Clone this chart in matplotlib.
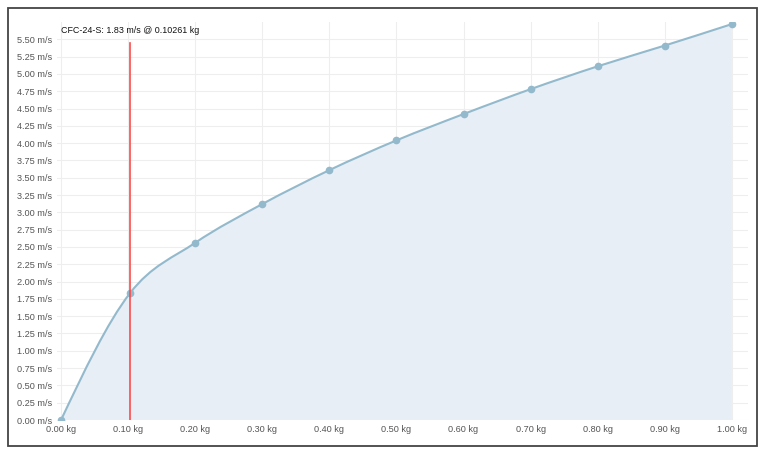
import numpy as np
import matplotlib
matplotlib.use("Agg")
import matplotlib.pyplot as plt
from matplotlib.path import Path
from matplotlib.patches import PathPatch, Rectangle

plt.rcParams['font.family'] = ['Liberation Sans', 'DejaVu Sans']

mass = [0.0, 0.10261, 0.2, 0.3, 0.4, 0.5, 0.6, 0.7, 0.8, 0.9, 1.0]
speed = [0.0, 1.83, 2.56, 3.12, 3.61, 4.04, 4.42, 4.78, 5.11, 5.41, 5.72]
marker_x = 0.10261
marker_label = "CFC-24-S: 1.83 m/s @ 0.10261 kg"
yticks = np.arange(0, 5.51, 0.25)
xticks = np.arange(0, 1.01, 0.1)

line_c = "#93b9cc"
fill_c = "#e7eef5"


def monotone_tangents(x, y):
    # same slopes as d3.curveMonotoneX
    x = np.asarray(x, float)
    y = np.asarray(y, float)
    h = np.diff(x)
    s = np.diff(y) / h
    t = np.zeros(len(x))
    for i in range(1, len(x) - 1):
        p = (s[i - 1] * h[i] + s[i] * h[i - 1]) / (h[i - 1] + h[i])
        t[i] = (np.sign(s[i - 1]) + np.sign(s[i])) * min(abs(s[i - 1]), abs(s[i]), 0.5 * abs(p))
    t[0] = (3 * s[0] - t[1]) / 2
    t[-1] = (3 * s[-1] - t[-2]) / 2
    return t


def curve_verts(x, y):
    t = monotone_tangents(x, y)
    verts = [(x[0], y[0])]
    codes = [Path.MOVETO]
    for i in range(len(x) - 1):
        dx = (x[i + 1] - x[i]) / 3
        verts += [(x[i] + dx, y[i] + dx * t[i]),
                  (x[i + 1] - dx, y[i + 1] - dx * t[i + 1]),
                  (x[i + 1], y[i + 1])]
        codes += [Path.CURVE4] * 3
    return verts, codes


fig = plt.figure(figsize=(7.68, 4.57), dpi=100)
fig.patches.append(Rectangle((8 / 768, 11 / 457), 749 / 768, 438 / 457,
                             transform=fig.transFigure, fill=False,
                             edgecolor="#444444", linewidth=1.3))
ax = fig.add_axes([57 / 768, 37 / 457, 691 / 768, 398 / 457])

verts, codes = curve_verts(mass, speed)
fverts = verts + [(mass[-1], 0), (mass[0], 0), (mass[0], speed[0])]
fcodes = codes + [Path.LINETO, Path.LINETO, Path.CLOSEPOLY]
ax.add_patch(PathPatch(Path(fverts, fcodes), facecolor=fill_c, edgecolor="none", zorder=1))
ax.add_patch(PathPatch(Path(verts, codes), facecolor="none", edgecolor=line_c, linewidth=1.5, zorder=3))
ax.plot(mass, speed, "o", color=line_c, markersize=4.5, zorder=4)

ax.plot([marker_x, marker_x], [0, 5.45], color="#ff4a4a", linewidth=1.2, zorder=5)
ax.text(0.0, 5.56, marker_label, fontsize=6.4, color="#111111", ha="left", va="bottom")

ax.set_xlim(-0.006, 1.024)
ax.set_ylim(0, 5.75)
ax.set_xticks(xticks)
ax.set_xticklabels([f"{v:.2f} kg" for v in xticks])
ax.set_yticks(yticks)
ax.set_yticklabels([f"{v:.2f} m/s" for v in yticks])
ax.tick_params(length=0, labelsize=6.6, labelcolor="#555555", pad=3.5)
ax.grid(True, color="#eeeeee", linewidth=0.8, zorder=0)
ax.set_axisbelow(True)
for sp in ax.spines.values():
    sp.set_visible(False)

plt.savefig("out.png", dpi=100)
